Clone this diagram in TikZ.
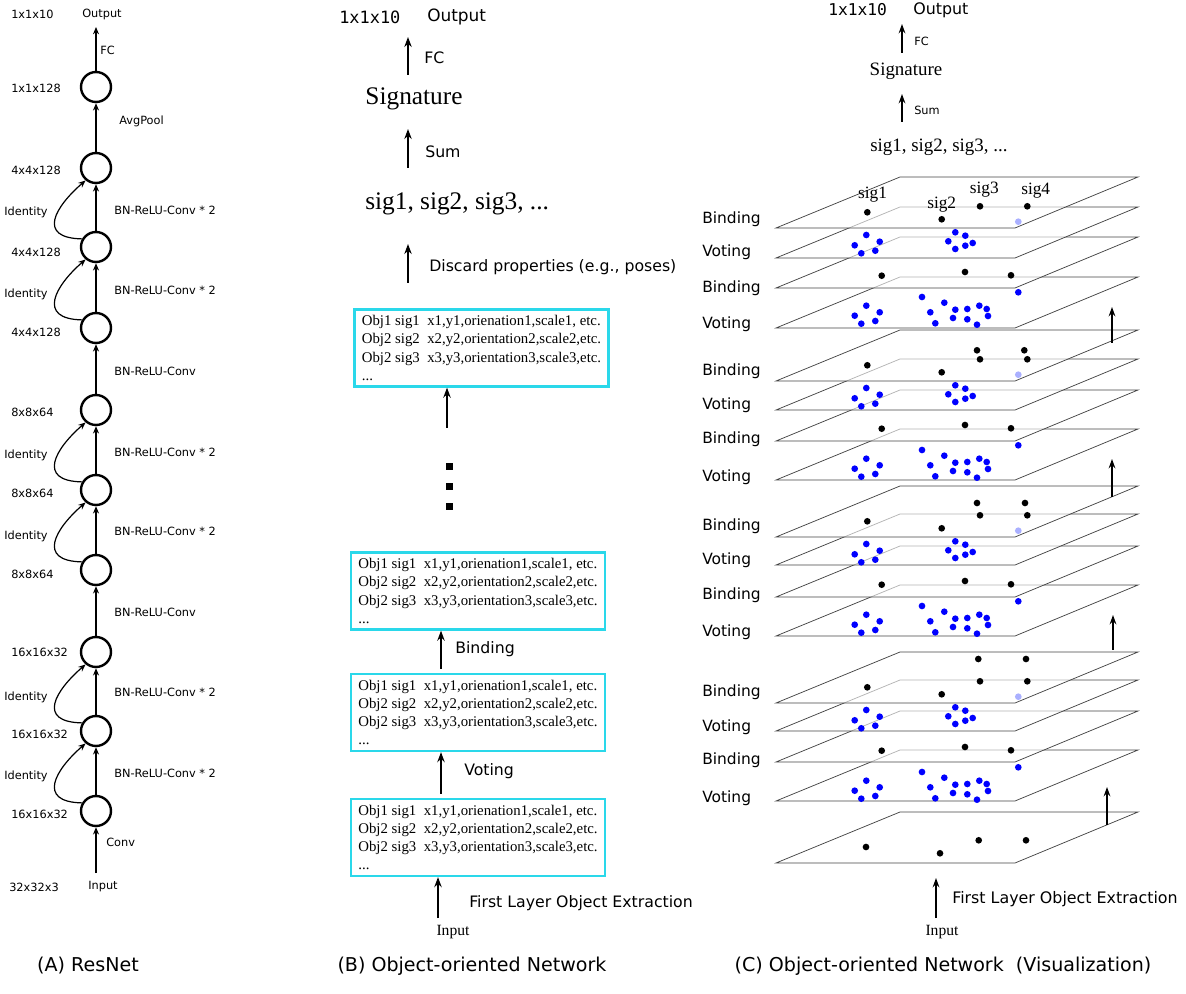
\documentclass[tikz,border=0pt]{standalone}
\usepackage{fontspec}
\setmainfont{DejaVu Sans}
\newfontfamily\serifA{Liberation Serif}
\newfontfamily\monoA{DejaVu Sans Mono}
\usetikzlibrary{arrows.meta}
\definecolor{boxcyan}{HTML}{2AD8EA}
\definecolor{dotblue}{HTML}{0000FF}
\definecolor{dotlight}{HTML}{AAB0FF}
\definecolor{planeline}{HTML}{444444}
\begin{document}
\begin{tikzpicture}[x=0.75pt,y=-0.75pt,
  lA/.style={font=\fontsize{8.5}{10}\selectfont, inner sep=0pt, anchor=west},
  lB/.style={font=\fontsize{11.8}{14}\selectfont, inner sep=0pt, anchor=west},
  lC/.style={font=\fontsize{11.6}{14}\selectfont, inner sep=0pt, anchor=west},
  lCs/.style={font=\fontsize{8.5}{10}\selectfont, inner sep=0pt, anchor=west},
  monoB/.style={font=\monoA\fontsize{12.7}{15}\selectfont, inner sep=0pt, anchor=west},
  monoC/.style={font=\monoA\fontsize{12.2}{15}\selectfont, inner sep=0pt, anchor=west},
  serB/.style={font=\serifA\fontsize{19}{22}\selectfont, inner sep=0pt},
  serC/.style={font=\serifA\fontsize{14.2}{17}\selectfont, inner sep=0pt},
  sigC/.style={font=\serifA\fontsize{13}{15}\selectfont, inner sep=0pt},
  inp/.style={font=\serifA\fontsize{11.7}{14}\selectfont, inner sep=0pt},
  captxt/.style={font=\fontsize{14.3}{17}\selectfont, inner sep=0pt},
  circ/.style={circle, draw, line width=1.8pt, minimum size=22.5pt, inner sep=0pt},
  objbox/.style={draw=boxcyan, line width=1.7pt, align=left,
    font=\serifA\fontsize{11.1}{13.7}\selectfont, inner xsep=5.25pt, inner ysep=3pt,
    minimum width=190.5pt, minimum height=57.75pt},
  arrA/.style={line width=0.9pt, -{Stealth[length=5.5pt,width=4.5pt]}},
  arrB/.style={line width=1.5pt, -{Stealth[length=7.5pt,width=5.5pt]}},
  arrC/.style={line width=1.4pt, -{Stealth[length=7pt,width=5pt]}},
  plane/.style={draw=planeline, line width=0.55pt, fill=white, fill opacity=0.6}
]
\useasboundingbox (0,0) rectangle (1186,994);

% ================= (A) ResNet =================
\foreach \n/\yy in {1/87,2/168,3/247,4/328,5/410,6/490,7/570,8/652,9/731,10/811}
  \node[circ] (a\n) at (96,\yy) {};
\foreach \l/\u in {2/1,3/2,4/3,5/4,6/5,7/6,8/7,9/8,10/9}
  \draw[arrA] (a\l) -- (a\u);
\coordinate (aout) at (96,27);
\coordinate (ain) at (96,873);
\draw[arrA] (a1) -- (aout);
\draw[arrA] (ain) -- (a10);
\foreach \l/\u in {3/2,4/3,6/5,7/6,9/8,10/9}
  \draw[arrA] (a\l.150) .. controls +(-46,-1) and +(-30,26) .. (a\u.230);

\node[lA] (sz0) at (11,14) {1x1x10};
\node[lA] (sz1) at (11,88) {1x1x128};
\node[lA] (sz2) at (11,170) {4x4x128};
\node[lA] (sz3) at (11,252) {4x4x128};
\node[lA] (sz4) at (11,332) {4x4x128};
\node[lA] (sz5) at (11,412) {8x8x64};
\node[lA] (sz6) at (11,493) {8x8x64};
\node[lA] (sz7) at (11,574) {8x8x64};
\node[lA] (sz8) at (11,652) {16x16x32};
\node[lA] (sz9) at (11,734) {16x16x32};
\node[lA] (sz10) at (11,814) {16x16x32};
\node[lA] (sz11) at (9,887) {32x32x3};
\node[lA,anchor=center] (aOutput) at (102,14) {Output};
\node[lA,anchor=center] (aInput) at (103,887) {Input};

\node[lA] (eFC) at (100,50) {FC};
\node[lA] (eAvg) at (119,121) {AvgPool};
\node[lA] (e1) at (114,210) {BN-ReLU-Conv * 2};
\node[lA] (e2) at (114,290) {BN-ReLU-Conv * 2};
\node[lA] (e3) at (114,371) {BN-ReLU-Conv};
\node[lA] (e4) at (114,452) {BN-ReLU-Conv * 2};
\node[lA] (e5) at (114,531) {BN-ReLU-Conv * 2};
\node[lA] (e6) at (114,612) {BN-ReLU-Conv};
\node[lA] (e7) at (114,692) {BN-ReLU-Conv * 2};
\node[lA] (e8) at (114,773) {BN-ReLU-Conv * 2};
\node[lA] (eConv) at (106,842) {Conv};
\foreach \i/\yy in {1/212,2/294,3/455,4/536,5/697,6/776}
  \node[lA] (id\i) at (4,\yy) {Identity};

% ================= (B) Object-oriented Network =================
\node[monoB] (bdim) at (339,17) {1x1x10};
\node[lB,font=\fontsize{12.7}{15}\selectfont] (bout) at (427,17) {Output};
\coordinate (bfc0) at (408,75);
\coordinate (bfc1) at (408,37);
\draw[arrB] (bfc0) -- (bfc1);
\node[lB] (bFC) at (424,58) {FC};
\node[serB] (bsig) at (414,99) {Signature};
\coordinate (bsum0) at (408,168);
\coordinate (bsum1) at (408,129);
\draw[arrB] (bsum0) -- (bsum1);
\node[lB] (bSum) at (425,152) {Sum};
\node[serB,anchor=west] (blist) at (365,204) {sig1, sig2, sig3, ...};
\coordinate (bdis0) at (408,283);
\coordinate (bdis1) at (408,244);
\draw[arrB] (bdis0) -- (bdis1);
\node[lB] (bDis) at (429,267) {Discard properties (e.g., poses)};

\node[objbox] (box1) at (481.5,348) {Obj1 sig1\ \ x1,y1,orienation1,scale1, etc.\\Obj2 sig2\ \ x2,y2,orientation2,scale2,etc.\\Obj2 sig3\ \ x3,y3,orientation3,scale3,etc.\\...};
\node[objbox] (box2) at (478,591) {Obj1 sig1\ \ x1,y1,orienation1,scale1, etc.\\Obj2 sig2\ \ x2,y2,orientation2,scale2,etc.\\Obj2 sig3\ \ x3,y3,orientation3,scale3,etc.\\...};
\node[objbox] (box3) at (478,712.5) {Obj1 sig1\ \ x1,y1,orienation1,scale1, etc.\\Obj2 sig2\ \ x2,y2,orientation2,scale2,etc.\\Obj2 sig3\ \ x3,y3,orientation3,scale3,etc.\\...};
\node[objbox] (box4) at (478,837.5) {Obj1 sig1\ \ x1,y1,orienation1,scale1, etc.\\Obj2 sig2\ \ x2,y2,orientation2,scale2,etc.\\Obj2 sig3\ \ x3,y3,orientation3,scale3,etc.\\...};

\coordinate (bup0) at (447,428);
\draw[arrB] (bup0) -- (bup0 |- box1.south);
\foreach \yy in {463.5,483.5,503.5}
  \fill[black] (445.5,\yy) rectangle +(7,7);
\coordinate (bxb) at (441,0);
\draw[arrB] ([yshift=3pt]box3.north -| bxb) -- (box2.south -| bxb);
\node[lB] (bBind) at (455,649) {Binding};
\draw[arrB] ([yshift=3pt]box4.north -| bxb) -- (box3.south -| bxb);
\node[lB] (bVote) at (464,771) {Voting};
\coordinate (bin0) at (438,918);
\draw[arrB] (bin0) -- (bin0 |- box4.south);
\node[lB] (bFirst) at (469,903) {First Layer Object Extraction};
\node[inp] (bInput) at (453,932) {Input};

% ================= (C) Visualization =================
\node[monoC] (cdim) at (828,10) {1x1x10};
\node[lC,font=\fontsize{11.9}{14}\selectfont] (cout) at (913,10) {Output};
\coordinate (cfc0) at (902,53);
\coordinate (cfc1) at (902,24);
\draw[arrC] (cfc0) -- (cfc1);
\node[lCs] (cFC) at (914,41) {FC};
\node[serC] (csig) at (906,71) {Signature};
\coordinate (csum0) at (902,122);
\coordinate (csum1) at (902,94);
\draw[arrC] (csum0) -- (csum1);
\node[lCs] (cSum) at (914,110) {Sum};
\node[serC,anchor=west] (clist) at (870,147) {sig1, sig2, sig3, ...};

\foreach \tp in {812,750,711,680,652,585,546,514,486,429,390,359,330,277,237,207,177}
  \filldraw[plane] (900,\tp) -- (1138,\tp) -- (1015,\tp+51) -- (776,\tp+51) -- cycle;

\foreach \g in {177,330,486,652} {
  \foreach \xx/\yy in {867.3/35.3, 941.7/42.3, 980/29.3, 1027.3/29.3, 881.7/98.7, 965/95, 1011/98.3}
    \fill[black] (\xx,\g+\yy) circle[radius=2.5pt];
  \foreach \xx/\yy in {866.3/58, 879.7/64.7, 854.7/68.3, 875.3/73.7, 861.3/76.3,
      955.3/55.3, 965.3/58.7, 948.3/64.3, 972.7/66, 965.3/68.7, 955.3/72,
      1018.3/115.3,
      866.3/128.7, 879.7/135.3, 854.7/138.7, 875.3/144, 861.3/146.7,
      922/120, 944.3/125.7, 930.3/135.3, 955.3/132.7, 967.3/132, 979.3/128.7,
      986.7/132, 988/139, 953/141, 967.3/142.3, 977/147.7, 935.3/146.3}
    \fill[dotblue] (\xx,\g+\yy) circle[radius=2.5pt];
  \fill[dotlight] (1018.3,\g+44.7) circle[radius=2.5pt];
}
\foreach \xx/\yy in {977/350.3, 1024.3/350.3, 977/503, 1025/503, 978.3/659, 1026/659,
    866/847, 940/853.3, 978.7/840.3, 1026/840.3}
  \fill[black] (\xx,\yy) circle[radius=2.5pt];

\node[sigC] (s1) at (872.5,194.3) {sig1};
\node[sigC] (s2) at (941.7,205) {sig2};
\node[sigC] (s3) at (984.3,189.3) {sig3};
\node[sigC] (s4) at (1035.7,191) {sig4};

\foreach \i/\yy/\tx in {1/219/Binding,2/252/Voting,3/288/Binding,4/324/Voting,
    5/371/Binding,6/405/Voting,7/439/Binding,8/477/Voting,
    9/526/Binding,10/560/Voting,11/595/Binding,12/632/Voting,
    13/692/Binding,14/727/Voting,15/760/Binding,16/798/Voting}
  \node[lC] (cl\i) at (702,\yy) {\tx};

\coordinate (cu1a) at (1112,343);
\coordinate (cu1b) at (1112,307);
\coordinate (cu2a) at (1112,497);
\coordinate (cu2b) at (1112,459);
\coordinate (cu3a) at (1113,650);
\coordinate (cu3b) at (1113,615);
\coordinate (cu4a) at (1107,825);
\coordinate (cu4b) at (1107,787);
\draw[arrC] (cu1a) -- (cu1b);
\draw[arrC] (cu2a) -- (cu2b);
\draw[arrC] (cu3a) -- (cu3b);
\draw[arrC] (cu4a) -- (cu4b);

\coordinate (cin0) at (936,918);
\coordinate (cin1) at (936,878);
\draw[arrC] (cin0) -- (cin1);
\node[lC,font=\fontsize{11.9}{14}\selectfont] (cFirst) at (952,899) {First Layer Object Extraction};
\node[inp] (cInput) at (942,932) {Input};

% ================= captions =================
\node[captxt] (capA) at (88,966) {(A) ResNet};
\node[captxt] (capB) at (472,966) {(B) Object-oriented Network};
\node[captxt] (capC) at (943,966) {(C) Object-oriented Network\ \ (Visualization)};
\end{tikzpicture}
\end{document}
